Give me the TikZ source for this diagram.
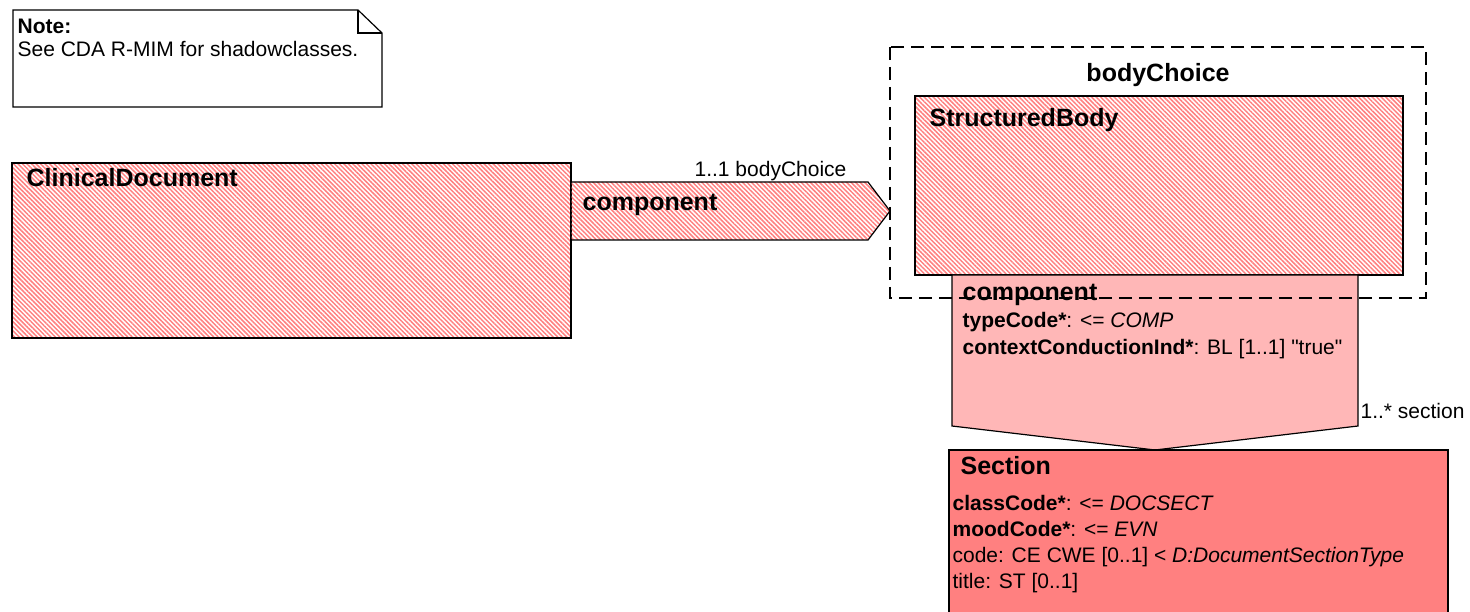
\documentclass[tikz,border=0pt]{standalone}
\usepackage{fontspec}
\setmainfont{Liberation Sans}[Ligatures=TeXOff]
\usetikzlibrary{patterns.meta}
\definecolor{rimred}{RGB}{255,128,128}
\definecolor{rimpink}{RGB}{255,183,183}

\begin{document}
\begin{tikzpicture}[x=1pt, y=-1pt, line width=1.2pt,
  font=\fontsize{21}{26}\selectfont,
  hatched/.style={draw=black, pattern={Lines[angle=-45,distance=3.2pt,line width=1.5pt]}, pattern color=rimred},
  clsname/.style={anchor=base west, inner sep=0pt, font=\fontsize{25}{30}\selectfont\bfseries},
  txt/.style={anchor=base west, inner sep=0pt}]
\useasboundingbox (0,0) rectangle (1470,612);
% note
\draw[fill=white] (13,10) -- (358,10) -- (382,33) -- (382,107) -- (13,107) -- cycle;
\draw (358,10) -- (358,33) -- (382,33);
\node[txt, font=\fontsize{21}{26}\selectfont\bfseries] (notehead) at (17,34) {Note:};
\node[txt] (notetext) at (17,57) {See CDA R-MIM for shadowclasses.};
% classes and associations
\draw[hatched] (12,163) rectangle (571,338);
\draw[hatched] (571,182) -- (868,182) -- (890,211) -- (868,240) -- (571,240) -- cycle;
\draw[hatched] (915,96) rectangle (1403,275);
\draw[fill=rimpink] (952,275) -- (1358,275) -- (1358,426) -- (1155,450) -- (952,426) -- cycle;
\draw[fill=rimred] (949,450) rectangle (1448,630);
\node[clsname] (cdname) at (26,187) {ClinicalDocument};
\node[clsname] (compname) at (582,211) {component};
\node[txt, anchor=base east] (compmult) at (847,177) {1..1 bodyChoice};
\node[clsname, anchor=base] (choicename) at (1158,82) {bodyChoice};
\node[clsname] (sbname) at (929,127) {StructuredBody};
\node[clsname] (secassoc) at (962,301) {component};
\node[txt] (comptype) at (962,328) {\textbf{typeCode*}: <= \textit{COMP}};
\node[txt] (compctx) at (962,355) {\textbf{contextConductionInd*}: BL [1..1] "true"};
\node[txt] (secmult) at (1360,418) {1..* section};
\node[clsname] (secname) at (960,474) {Section};
\node[txt] (secclass) at (952,510) {\textbf{classCode*}: <= \textit{DOCSECT}};
\node[txt] (secmood) at (952,536) {\textbf{moodCode*}: <= \textit{EVN}};
\node[txt] (seccode) at (952,562) {code: CE CWE [0..1] < \textit{D:DocumentSectionType}};
\node[txt] (sectitle) at (952,588) {title: ST [0..1]};
% choice box
\draw[dash pattern=on 13pt off 7pt] (890,47) rectangle (1426,298);
\end{tikzpicture}
\end{document}
